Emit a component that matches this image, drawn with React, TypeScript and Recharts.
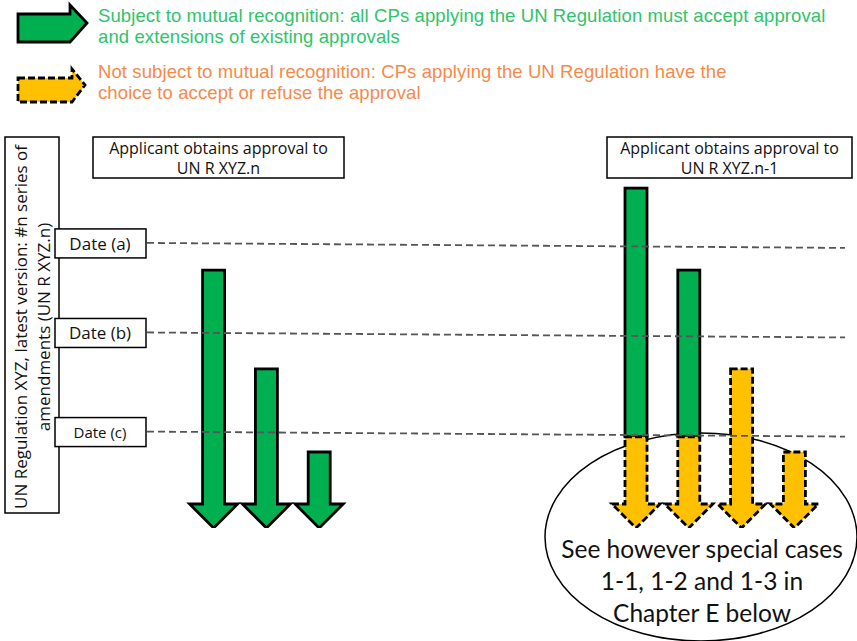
import { Bar, ComposedChart, XAxis, YAxis, ReferenceLine, Legend, Customized } from "recharts"

// one slot per arrow, empty slots keep the two groups apart
const slots = ["n·1", "n·2", "n·3", "", "", "", "", "", "n-1·1", "n-1·2", "n-1·3", "n-1·4"]
// time (0 = top of the timeline, 100 = bottom)
const approvalStart = [35.2, 60, 80.9, null, null, null, null, null, 14.6, 35.2, 60, 80.9]
const mutualUntil = [100, 100, 100, null, null, null, null, null, 77.1, 77.1, 60, 80.9]
const validUntil = [100, 100, 100, null, null, null, null, null, 100, 100, 100, 100]

const dateLabels = ["Date (a)", "Date (b)", "Date (c)"]
const dateValues = [29, 51.5, 76.4]

const groupTitles = [
  ["Applicant obtains approval to", "UN R XYZ.n"],
  ["Applicant obtains approval to", "UN R XYZ.n-1"],
]
const sideTitle = ["UN Regulation XYZ, latest version: #n series of", "amendments (UN R XYZ.n)"]
const noteLines = ["See however special cases", "1-1, 1-2 and 1-3 in", "Chapter E below"]

const legendLines = [
  ["Subject to mutual recognition: all CPs applying the UN Regulation must accept approval", "and extensions of existing approvals"],
  ["Not subject to mutual recognition: CPs applying the UN Regulation have the", "choice to accept or refuse the approval"],
]
const legendNames = legendLines.map((l) => l.join(" "))

const data = slots.map((slot, i) => {
  const s = approvalStart[i]
  if (s == null) return { slot, offset: null, green: null, amber: null }
  return {
    slot,
    offset: s,
    green: (mutualUntil[i] as number) - s,
    amber: (validUntil[i] as number) - (mutualUntil[i] as number),
  }
})

const GREEN = "#00B050"
const AMBER = "#FFC000"
const HEAD_H = 24
const HEAD_W = 48
const font = "'Open Sans', sans-serif"

function norm(p: any) {
  let { x, y, width, height } = p
  if (height < 0) {
    y += height
    height = -height
  }
  return { x, y, w: width, h: height }
}

function arrowPoints(x: number, y: number, w: number, h: number) {
  const cx = x + w / 2
  const yb = y + h
  const yh = yb - HEAD_H
  return [
    [x, y], [x + w, y], [x + w, yh], [cx + HEAD_W / 2, yh], [cx, yb], [cx - HEAD_W / 2, yh], [x, yh],
  ].map((p) => p.join(",")).join(" ")
}

const GreenShape = (props: any) => {
  const { x, y, w, h } = norm(props)
  if (h < 0.5) return null
  const head = !(props.payload?.amber > 0)
  if (head)
    return <polygon points={arrowPoints(x, y, w, h)} fill={GREEN} stroke="#000" strokeWidth={2.8} />
  return <rect x={x} y={y} width={w} height={h} fill={GREEN} stroke="#000" strokeWidth={2.8} />
}

const AmberShape = (props: any) => {
  const { x, y, w, h } = norm(props)
  if (h < 0.5) return null
  return (
    <polygon points={arrowPoints(x, y, w, h)} fill={AMBER} stroke="#000" strokeWidth={2.8} strokeDasharray="7 3" />
  )
}

// legend arrow outlines and text tops, per legend row
const legendArrow = ["18,14 70,14 70,5 87,23 70,42 18,42", "18,78 72,78 72,69 85,85 72,102 18,102"]
const legendTextTop = [5, 61]
const legendColor = ["#2FC46A", "#F7894A"]

const renderLegend = (props: any) => {
  const items = (props.payload || []).filter((e: any) => legendNames.includes(e.value))
  return (
    <div style={{ position: "relative", width: 857, height: 110 }}>
      <svg width={100} height={110} style={{ position: "absolute", left: 0, top: 0 }}>
        {items.map((e: any) => {
          const i = legendNames.indexOf(e.value)
          return (
            <polygon
              key={i}
              points={legendArrow[i]}
              fill={e.color}
              stroke="#000"
              strokeWidth={2.8}
              strokeDasharray={i === 1 ? "7 3" : undefined}
            />
          )
        })}
      </svg>
      {items.map((e: any) => {
        const i = legendNames.indexOf(e.value)
        return (
          <div
            key={i}
            style={{
              position: "absolute",
              left: 98,
              top: legendTextTop[i],
              color: legendColor[i],
              fontFamily: "'Liberation Sans', Arial, sans-serif",
              fontSize: 18.5,
              lineHeight: "21px",
              letterSpacing: 0.1,
              whiteSpace: "nowrap",
            }}
          >
            {legendLines[i].map((l, k) => (
              <div key={k}>{l}</div>
            ))}
          </div>
        )
      })}
    </div>
  )
}

const Annotations = () => (
  <g>
    {/* side box */}
    <rect x={5} y={137} width={54} height={376} fill="none" stroke="#000" strokeWidth={1.5} />
    {sideTitle.map((t, i) => (
      <text
        key={i}
        transform={`translate(${20 + i * 23},${327}) rotate(-90)`}
        textAnchor="middle"
        dominantBaseline="central"
        fontFamily={font}
        fontSize={17}
        fill="#111"
      >
        {t}
      </text>
    ))}
    {/* group titles */}
    {groupTitles.map((lines, g) => {
      const bx = g === 0 ? 93 : 607
      const bw = g === 0 ? 251 : 245
      return (
        <g key={g}>
          <rect x={bx} y={137} width={bw} height={41} fill="#fff" stroke="#000" strokeWidth={1.5} />
          {lines.map((l, k) => (
            <text key={k} x={bx + bw / 2} y={148 + k * 20} textAnchor="middle" dominantBaseline="central" fontFamily={font} fontSize={16} fill="#111">
              {l}
            </text>
          ))}
        </g>
      )
    })}
    {/* note */}
    <ellipse cx={701} cy={537} rx={156} ry={104} fill="none" stroke="#000" strokeWidth={1.5} />
    {noteLines.map((l, k) => (
      <text key={k} x={702} y={548 + k * 32} textAnchor="middle" dominantBaseline="central" fontFamily="Lato, sans-serif" fontSize={24.5} fill="#111">
        {l}
      </text>
    ))}
  </g>
)

export default function App() {
  return (
    <div style={{ position: "absolute", left: 0, top: 0, background: "#fff" }}>
      <ComposedChart width={857} height={641} data={data} margin={{ top: 20, right: 35.8, bottom: 113, left: 187.6 }}>
        <XAxis dataKey="slot" type="category" hide />
        <YAxis type="number" domain={[0, 100]} reversed hide allowDataOverflow />
        <Legend verticalAlign="top" align="left" height={110} wrapperStyle={{ top: 0, left: 0, width: 857 }} content={renderLegend} />
        {dateValues.map((v, i) => (
          <ReferenceLine
            key={i}
            y={v}
            shape={(p: any) => (
              <line x1={147} y1={p.y1 - 2.5} x2={845} y2={p.y1 + 2.5} stroke="#555" strokeWidth={1.8} strokeDasharray="7 4" />
            )}
            label={{
              content: (lp: any) => {
                const cy = lp.viewBox.y - 2
                return (
                  <g>
                    <rect x={55} y={cy - 14.5} width={91} height={29} fill="#fff" stroke="#000" strokeWidth={1.5} />
                    <text x={100} y={cy} textAnchor="middle" dominantBaseline="central" fontFamily={font} fontSize={i === 2 ? 15 : 17} fill="#111">
                      {dateLabels[i]}
                    </text>
                  </g>
                )
              },
            }}
          />
        ))}
        <Bar dataKey="offset" stackId="t" fill="none" legendType="none" barSize={22} isAnimationActive={false} shape={() => null} />
        <Bar dataKey="green" name={legendNames[0]} stackId="t" fill={GREEN} barSize={22} isAnimationActive={false} shape={GreenShape} />
        <Bar dataKey="amber" name={legendNames[1]} stackId="t" fill={AMBER} barSize={22} isAnimationActive={false} shape={AmberShape} />
        <Customized component={Annotations} />
      </ComposedChart>
    </div>
  )
}
